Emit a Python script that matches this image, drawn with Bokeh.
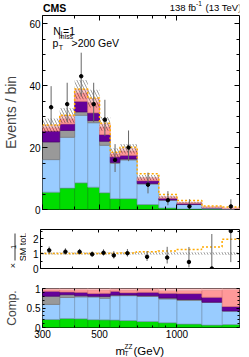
import math
import numpy as np
from bokeh.plotting import figure
from bokeh.models import (Range1d, FixedTicker, SingleIntervalTicker, LinearAxis, LogAxis,
                          NumeralTickFormatter, PrintfTickFormatter, Label, Arrow)
from bokeh.layouts import column, row
from bokeh.embed import file_html
from bokeh.resources import INLINE

FONT = "Liberation Sans"

# ---------------- data ----------------
edges = [300, 350, 400, 450, 500, 550, 600, 700, 850, 1000, 1250, 1500, 1750]
green = [5.6, 6.9, 8.6, 7.2, 5.4, 3.5, 3.5, 1.6, 0.5, 0.2, 0.05, 0.03]
blue = [10.5, 16.4, 21.8, 20.8, 15.3, 11.4, 12.5, 6.6, 2.5, 1.4, 0.47, 0.14]
grey = [5.7, 2.2, 1.1, 0.7, 1.3, 0.3, 0.3, 0.2, 0.1, 0.05, 0.0, 0.0]
purple = [3.5, 2.1, 3.4, 2.5, 2.2, 1.8, 1.2, 0.9, 0.5, 0.35, 0.1, 0.045]
salmon = [1.2, 1.7, 2.7, 3.4, 2.4, 0.9, 1.4, 0.8, 0.3, 0.2, 0.15, 0.175]
pink = [0.7, 1.0, 1.1, 1.2, 1.0, 0.4, 0.7, 0.2, 0.2, 0.1, 0.03, 0.01]
alt_total = [27.3, 30.4, 38.9, 36.0, 27.8, 18.5, 20.1, 11.5, 4.8, 2.9, 1.15, 0.78]
unc_rel = [0.08, 0.08, 0.08, 0.08, 0.08, 0.08, 0.08, 0.08, 0.08, 0.08, 0.09, 0.1]
data = [33, 34, 43, 34, 29, 16, 20, 8, 3, 1, 0, 1]
data_lo = [27.3, 28.2, 36.5, 28.2, 23.7, 12.1, 15.6, 5.2, 1.37, 0.17, 0.0, 0.17]
data_hi = [39.8, 40.9, 50.6, 40.9, 35.4, 21.1, 25.5, 11.9, 5.92, 3.3, 1.84, 3.3]
x_ticks = [300, 500, 1000]
x_minor = [400, 600, 700, 800, 900]

fill_colors = ["#00dd00", "#99ccff", "#999999", "#660099", "#ff9999", "#ffcccc"]
line_colors = ["#00a000", "#7799bb", "#777777", "#4a0070", "#e07a7a", "#f0b0b0"]
ORANGE = "#ffaa00"
ERR = "#666666"

# ---------------- derived ----------------
left = np.array(edges[:-1], float)
right = np.array(edges[1:], float)
centers = np.sqrt(left * right)
stack = [np.array(v, float) for v in (green, blue, grey, purple, salmon, pink)]
total = np.sum(stack, axis=0)
unc = np.array(unc_rel)
d = np.array(data, float)
dlo = np.array(data_lo)
dhi = np.array(data_hi)
alt = np.array(alt_total)

W = 249
LB, RB = 40, 10


def make_fig(width, height, y_range, bl, bt, bb):
    p = figure(width=width, height=height, x_axis_type="log",
               x_range=Range1d(edges[0], edges[-1]), y_range=y_range,
               output_backend="svg", toolbar_location=None,
               min_border_left=bl, min_border_right=RB,
               min_border_top=bt, min_border_bottom=bb)
    p.xgrid.visible = False
    p.ygrid.visible = False
    p.outline_line_color = "black"
    p.outline_line_width = 1
    p.background_fill_color = "white"
    p.border_fill_color = "white"
    return p


def strip(width, height, bl=0, br=0, bt=0, bb=0):
    s = figure(width=width, height=height, x_range=Range1d(0, 1), y_range=Range1d(0, 1),
               output_backend="svg", toolbar_location=None,
               x_axis_location=None, y_axis_location=None,
               min_border_left=bl, min_border_right=br, min_border_top=bt, min_border_bottom=bb)
    s.xgrid.visible = False
    s.ygrid.visible = False
    s.outline_line_color = None
    s.background_fill_color = "white"
    s.border_fill_color = "white"
    return s


def style_axis(ax, labels, tin=5, tmin=3):
    ax.major_tick_in = tin
    ax.major_tick_out = 0
    ax.minor_tick_in = tmin
    ax.minor_tick_out = 0
    ax.axis_line_color = None
    ax.major_tick_line_color = "black"
    ax.minor_tick_line_color = "black"
    if labels:
        ax.major_label_text_font_size = "10px"
        ax.major_label_text_font = FONT
        ax.major_label_text_color = "black"
        ax.major_label_standoff = 2
    else:
        ax.formatter = PrintfTickFormatter(format="")
        ax.major_label_text_font_size = "0px"
        ax.major_label_standoff = 0


def xticker():
    return FixedTicker(ticks=x_ticks, minor_ticks=x_minor)


def axes(p, yticker, yfmt, xlabels, tin=5, tmin=3):
    p.xaxis[0].ticker = xticker()
    p.xaxis[0].formatter = NumeralTickFormatter(format="0")
    style_axis(p.xaxis[0], xlabels, tin, tmin)
    p.yaxis[0].ticker = yticker
    if yfmt is not None:
        p.yaxis[0].formatter = yfmt
    style_axis(p.yaxis[0], True, tin, tmin)
    top = LogAxis(ticker=xticker())
    style_axis(top, False, tin, tmin)
    p.add_layout(top, "above")
    rgt = LinearAxis(ticker=yticker)
    style_axis(rgt, False, tin, tmin)
    p.add_layout(rgt, "right")


def lab(p, x, y, text, size, **kw):
    p.add_layout(Label(x=x, y=y, x_units="screen", y_units="screen", text=text,
                       text_font=FONT, text_font_size=size, text_color="black",
                       text_baseline=kw.pop("baseline", "alphabetic"), **kw))


# ================= header strip (frame aligned to x = 40..239) =================
HS = 15
hs = strip(W, HS, bl=LB, br=RB)
lab(hs, 0.5, HS - 1.0, "CMS", "10.5px", text_font_style="bold", baseline="top")
lab(hs, 199, HS - 1.5, "(13 TeV)", "9.5px", text_align="right", baseline="top")
lab(hs, 159.4, HS - 0.8, "-1", "6.5px", text_align="right", baseline="top")
lab(hs, 153.6, HS - 1.5, "138 fb", "9.5px", text_align="right", baseline="top")

# ================= main panel =================
p1 = make_fig(W, 204, Range1d(0, 62.6), LB, 0, 10)
bottom = np.zeros(len(left))
for vals, fc, lc in zip(stack, fill_colors, line_colors):
    top = bottom + vals
    p1.quad(left=left, right=right, bottom=bottom, top=top,
            fill_color=fc, line_color=lc, line_width=0.7)
    bottom = top
p1.quad(left=left, right=right, bottom=total * (1 - unc), top=total * (1 + unc),
        fill_alpha=0, line_alpha=0, hatch_pattern="\\", hatch_color="black",
        hatch_alpha=0.75, hatch_scale=6, hatch_weight=0.5)
p1.step(x=list(edges), y=list(alt) + [alt[-1]], mode="after",
        line_color=ORANGE, line_dash="2 2", line_width=1.5)
m = d > 0
p1.segment(x0=centers[m], y0=dlo[m], x1=centers[m], y1=dhi[m],
           line_color=ERR, line_width=1)
p1.scatter(x=centers[m], y=d[m], size=3.5, color="black")
axes(p1, SingleIntervalTicker(interval=20, num_minor_ticks=4), None, False)
p1.yaxis[0].axis_label = "Events / bin"
p1.yaxis[0].axis_label_text_font = FONT
p1.yaxis[0].axis_label_text_font_size = "14px"
p1.yaxis[0].axis_label_text_font_style = "normal"
p1.yaxis[0].axis_label_standoff = 7

lab(p1, 10.7, 179, "N", "10.5px")
lab(p1, 18.2, 176, "j", "7px")
lab(p1, 20.5, 179, "=1", "10.5px")
lab(p1, 10, 167, "p", "10.5px")
lab(p1, 16.3, 173, "miss", "7px")
lab(p1, 16.3, 162, "T", "7px")
lab(p1, 29, 167, ">200 GeV", "10.5px")

# ================= ratio panel =================
RS = 26
rs = strip(RS, 59, bt=10, bb=10)  # frame spans page y 229..268
lab(rs, 13, 21.5, "1", "7.5px", angle=math.pi / 2, text_align="center")
rs.add_layout(Arrow(x_start=14.5, y_start=35, x_end=14.5, y_end=8,
                    start_units="screen", end_units="screen", end=None,
                    line_color="black", line_width=0.8))
lab(rs, 22, 21.5, "SM tot.", "9px", angle=math.pi / 2, text_align="center")
lab(rs, 12, 3.0, "\u00d7", "9px", angle=math.pi / 2, text_align="center")

p2 = make_fig(W - RS, 59, Range1d(0, 2.6), LB - RS, 10, 10)
p2.quad(left=left, right=right, bottom=1 - unc, top=1 + unc,
        fill_alpha=0, line_alpha=0, hatch_pattern="\\", hatch_color="black",
        hatch_alpha=0.75, hatch_scale=6, hatch_weight=0.5)
ratio_alt = alt / total
p2.step(x=list(edges), y=list(ratio_alt) + [ratio_alt[-1]], mode="after",
        line_color=ORANGE, line_dash="2 2", line_width=1.5)
p2.segment(x0=centers, y0=dlo / total, x1=centers, y1=dhi / total,
           line_color=ERR, line_width=1)
p2.scatter(x=centers, y=d / total, size=3.5, color="black")
axes(p2, SingleIntervalTicker(interval=1, num_minor_ticks=2), None, False, 3, 2)

# ================= composition panel =================
p3 = make_fig(W, 62, Range1d(0, 1.0), LB, 10, 13)
bottom = np.zeros(len(left))
for vals, fc, lc in zip(stack, fill_colors, line_colors):
    top = bottom + vals / total
    p3.quad(left=left, right=right, bottom=bottom, top=top,
            fill_color=fc, line_color=lc, line_width=0.7)
    bottom = top
axes(p3, FixedTicker(ticks=[0, 0.5, 1], minor_ticks=[0.1, 0.2, 0.3, 0.4, 0.6, 0.7, 0.8, 0.9]),
     NumeralTickFormatter(format="0.[0]"), True, 3, 2)
p3.xaxis[0].major_label_standoff = 1
p3.yaxis[0].axis_label = "Comp."
p3.yaxis[0].axis_label_text_font = FONT
p3.yaxis[0].axis_label_text_font_size = "12px"
p3.yaxis[0].axis_label_text_font_style = "normal"
p3.yaxis[0].axis_label_standoff = 5

# ================= x-label strip (frame aligned to x = 40..239) =================
xs = strip(W, 17, bl=LB, br=RB)
lab(xs, 73, 6.5, "m", "11.5px")
lab(xs, 82, 11, "ZZ", "6.5px")
lab(xs, 82, 4, "T", "6.5px")
lab(xs, 91, 6.5, "(GeV)", "11.5px")

layout = column(hs, p1, row(rs, p2, spacing=0), p3, xs, spacing=0)
open("out.html", "w").write(file_html(layout, INLINE))
